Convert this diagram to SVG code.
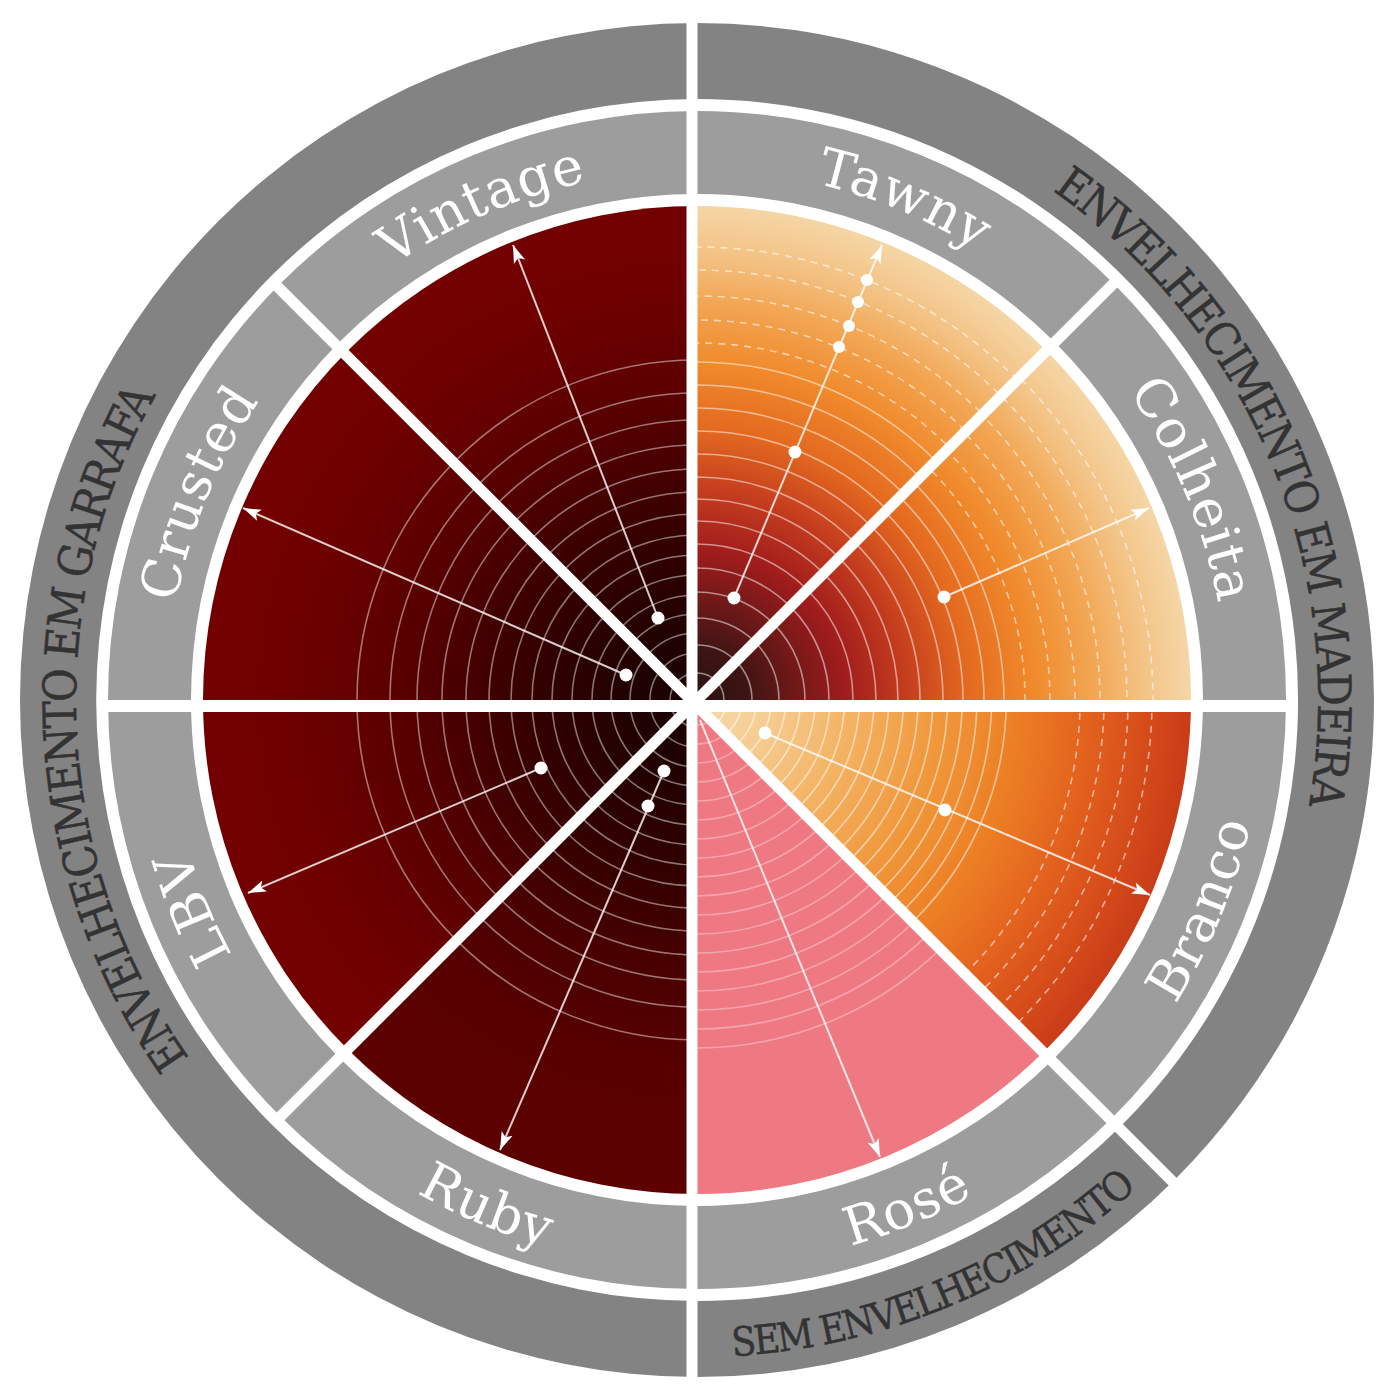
<svg xmlns="http://www.w3.org/2000/svg" width="1400" height="1400" viewBox="0 0 1400 1400">
<defs>
<style>
.lbl{font-family:"DejaVu Serif","Liberation Serif",serif;font-size:53px;fill:#ffffff;letter-spacing:1px;text-anchor:middle}
.cat{font-family:"DejaVu Serif Condensed","DejaVu Serif","Liberation Serif",serif;font-stretch:condensed;font-size:46px;letter-spacing:-2px;fill:#333333;stroke:#333333;stroke-width:0.5;text-anchor:middle}
.ringL{fill:none;stroke:#ffffff;stroke-opacity:.45;stroke-width:1.6}
.ringS{fill:none;stroke:#ffffff;stroke-opacity:.5;stroke-width:1.6}
.ringD{fill:none;stroke:#ffffff;stroke-opacity:.55;stroke-width:1.6;stroke-dasharray:7 6}
.ringP{fill:none;stroke:#ffffff;stroke-opacity:.32;stroke-width:1.6}
.seg{fill:#9d9d9d}
.outer{fill:#838383}
.sep{stroke:#ffffff;stroke-width:11;fill:none}
.arrow{stroke:#ffffff;stroke-opacity:.8;stroke-width:2;fill:none;marker-end:url(#ah)}
.dot{fill:#ffffff}
</style>
<marker id="ah" markerWidth="20" markerHeight="14" refX="18" refY="7" orient="auto" markerUnits="userSpaceOnUse">
<path d="M0,1 L18,7 L0,13 L4,7 Z" fill="#ffffff"/>
</marker>
<radialGradient id="gL" gradientUnits="userSpaceOnUse" cx="697" cy="700" r="494">
<stop offset="0" stop-color="#1a0202"/><stop offset="0.15" stop-color="#220101"/><stop offset="0.35" stop-color="#360000"/><stop offset="0.55" stop-color="#520000"/><stop offset="0.72" stop-color="#660000"/><stop offset="0.85" stop-color="#700000"/><stop offset="1" stop-color="#730000"/>
</radialGradient>
<radialGradient id="gRu" gradientUnits="userSpaceOnUse" cx="697" cy="700" r="494">
<stop offset="0" stop-color="#1a0202"/><stop offset="0.15" stop-color="#210101"/><stop offset="0.35" stop-color="#330000"/><stop offset="0.55" stop-color="#4a0000"/><stop offset="0.75" stop-color="#580000"/><stop offset="1" stop-color="#5c0000"/>
</radialGradient>
<radialGradient id="gT" gradientUnits="userSpaceOnUse" cx="697" cy="700" r="494">
<stop offset="0" stop-color="#2a1212"/><stop offset="0.1" stop-color="#3d1414"/><stop offset="0.2" stop-color="#701818"/><stop offset="0.3" stop-color="#a01c1c"/><stop offset="0.42" stop-color="#c43c1e"/><stop offset="0.55" stop-color="#e46a20"/><stop offset="0.68" stop-color="#f08a2c"/><stop offset="0.8" stop-color="#f2a552"/><stop offset="0.9" stop-color="#f3c284"/><stop offset="1" stop-color="#f5d6a6"/>
</radialGradient>
<radialGradient id="gB" gradientUnits="userSpaceOnUse" cx="697" cy="700" r="494">
<stop offset="0" stop-color="#f6dbb0"/><stop offset="0.15" stop-color="#f5cc90"/><stop offset="0.3" stop-color="#f3b466"/><stop offset="0.5" stop-color="#f0963a"/><stop offset="0.65" stop-color="#ec7e24"/><stop offset="0.8" stop-color="#e2601e"/><stop offset="0.92" stop-color="#d44a1a"/><stop offset="1" stop-color="#c83c18"/>
</radialGradient>
<clipPath id="cBr"><path d="M697,700 L1191,700 A494,494 0 0 1 1046.3,1049.3 Z"/></clipPath>
<clipPath id="cRo"><path d="M697,700 L1046.3,1049.3 A494,494 0 0 1 697,1194 Z"/></clipPath>
<clipPath id="cRu"><path d="M697,700 L697,1194 A494,494 0 0 1 347.7,1049.3 Z"/></clipPath>
<clipPath id="cLB"><path d="M697,700 L347.7,1049.3 A494,494 0 0 1 203,700 Z"/></clipPath>
<clipPath id="cCr"><path d="M697,700 L203,700 A494,494 0 0 1 347.7,350.7 Z"/></clipPath>
<clipPath id="cVi"><path d="M697,700 L347.7,350.7 A494,494 0 0 1 697,206 Z"/></clipPath>
<clipPath id="cTa"><path d="M697,700 L697,206 A494,494 0 0 1 1046.3,350.7 Z"/></clipPath>
<clipPath id="cCo"><path d="M697,700 L1046.3,350.7 A494,494 0 0 1 1191,700 Z"/></clipPath>
<g id="ringsLeft" class="ringL" transform="translate(697,700)">
<circle r="27"/><circle r="47"/><circle r="67"/><circle r="86"/><circle r="105"/><circle r="125"/><circle r="145"/><circle r="165"/><circle r="186"/><circle r="208"/><circle r="231"/><circle r="255"/><circle r="280"/><circle r="307"/><circle r="340"/>
</g>
<g id="ringsTawny" transform="translate(697,700)">
<g class="ringS"><circle r="27"/><circle r="55"/><circle r="82"/><circle r="108"/><circle r="132"/><circle r="156"/><circle r="179"/><circle r="201"/><circle r="223"/><circle r="246"/><circle r="269"/><circle r="292"/><circle r="315"/><circle r="338"/></g>
<g class="ringD"><circle r="357"/><circle r="380"/><circle r="404"/><circle r="430"/><circle r="453"/></g>
</g>
<g id="ringsColheita" transform="translate(697,700)">
<g class="ringS"><circle r="27"/><circle r="55"/><circle r="82"/><circle r="108"/><circle r="132"/><circle r="156"/><circle r="179"/><circle r="201"/><circle r="223"/><circle r="246"/><circle r="266"/><circle r="287"/><circle r="307"/></g>
<g class="ringD"><circle r="328"/><circle r="353"/><circle r="378"/><circle r="403"/><circle r="430"/><circle r="456"/></g>
</g>
<g id="ringsBranco" transform="translate(697,700)">
<g class="ringS"><circle r="30"/><circle r="44.7"/><circle r="59.4"/><circle r="74.1"/><circle r="88.8"/><circle r="103.5"/><circle r="118.2"/><circle r="132.9"/><circle r="147.6"/><circle r="162.3"/><circle r="177"/><circle r="191.7"/><circle r="206.4"/><circle r="221.1"/><circle r="235.8"/><circle r="250.5"/><circle r="265.2"/><circle r="279.9"/><circle r="294.6"/><circle r="309.3"/></g>
<g class="ringD"><circle r="383"/><circle r="407"/><circle r="431"/><circle r="455"/></g>
</g>
<g id="ringsRose" class="ringP" transform="translate(697,700)">
<circle r="25"/><circle r="44"/><circle r="63"/><circle r="82"/><circle r="101"/><circle r="120"/><circle r="139"/><circle r="158"/><circle r="177"/><circle r="196"/><circle r="215"/><circle r="234"/><circle r="253"/><circle r="272"/><circle r="291"/><circle r="310"/><circle r="329"/><circle r="348"/>
</g>
<path id="tpTop" d="M356.3,294 A530,530 0 0 1 1037.7,294"/>
<path id="tpBot" d="M332.5,1134.3 A567,567 0 0 0 1061.5,1134.3"/>
<path id="tpOTop" d="M221.3,300.8 A621,621 0 0 1 1172.7,300.8"/>
<path id="tpOBot" d="M193.7,1122.3 A657,657 0 0 0 1200.3,1122.3"/>
</defs>
<rect x="0" y="0" width="1400" height="1400" fill="#ffffff"/>

<g id="cat-garrafa">
<path class="outer" d="M697,1377 A677,677 0 0 1 697,23 L697,99 A601,601 0 0 0 697,1301 Z"/>
<text class="cat" transform="rotate(-93 697 700)"><textPath href="#tpOTop" startOffset="50%">ENVELHECIMENTO EM GARRAFA</textPath></text>
</g>
<g id="cat-madeira">
<path class="outer" d="M697,23 A677,677 0 0 1 1175.7,1178.7 L1122,1125 A601,601 0 0 0 697,99 Z"/>
<text class="cat" transform="rotate(67.25 697 700)"><textPath href="#tpOTop" startOffset="50%">ENVELHECIMENTO EM MADEIRA</textPath></text>
</g>
<g id="cat-sem">
<path class="outer" d="M1175.7,1178.7 A677,677 0 0 1 697,1377 L697,1301 A601,601 0 0 0 1122,1125 Z"/>
<text class="cat" style="font-size:40px;letter-spacing:-2px" transform="rotate(-22.5 697 700)"><textPath href="#tpOBot" startOffset="50%">SEM ENVELHECIMENTO</textPath></text>
</g>

<g id="node-branco">
<path class="seg" d="M1286,700 A589,589 0 0 1 1113.5,1116.5 L1054.8,1057.8 A506,506 0 0 0 1203,700 Z"/>
<path fill="url(#gB)" d="M697,700 L1191,700 A494,494 0 0 1 1046.3,1049.3 Z"/>
<use href="#ringsBranco" clip-path="url(#cBr)"/>
<text class="lbl" transform="rotate(-67.5 697 700)"><textPath href="#tpBot" startOffset="50%">Branco</textPath></text>
</g>
<g id="node-rose">
<path class="seg" d="M1113.5,1116.5 A589,589 0 0 1 697,1289 L697,1206 A506,506 0 0 0 1054.8,1057.8 Z"/>
<path fill="#ef7983" d="M697,700 L1046.3,1049.3 A494,494 0 0 1 697,1194 Z"/>
<use href="#ringsRose" clip-path="url(#cRo)"/>
<text class="lbl" transform="rotate(-22.5 697 700)"><textPath href="#tpBot" startOffset="50%">Rosé</textPath></text>
</g>
<g id="node-ruby">
<path class="seg" d="M697,1289 A589,589 0 0 1 280.5,1116.5 L339.2,1057.8 A506,506 0 0 0 697,1206 Z"/>
<path fill="url(#gRu)" d="M697,700 L697,1194 A494,494 0 0 1 347.7,1049.3 Z"/>
<use href="#ringsLeft" clip-path="url(#cRu)"/>
<text class="lbl" transform="rotate(22.5 697 700)"><textPath href="#tpBot" startOffset="50%">Ruby</textPath></text>
</g>
<g id="node-lbv">
<path class="seg" d="M280.5,1116.5 A589,589 0 0 1 108,700 L191,700 A506,506 0 0 0 339.2,1057.8 Z"/>
<path fill="url(#gL)" d="M697,700 L347.7,1049.3 A494,494 0 0 1 203,700 Z"/>
<use href="#ringsLeft" clip-path="url(#cLB)"/>
<text class="lbl" transform="rotate(-112.5 697 700)"><textPath href="#tpTop" startOffset="50%">LBV</textPath></text>
</g>
<g id="node-crusted">
<path class="seg" d="M108,700 A589,589 0 0 1 280.5,283.5 L339.2,342.2 A506,506 0 0 0 191,700 Z"/>
<path fill="url(#gL)" d="M697,700 L203,700 A494,494 0 0 1 347.7,350.7 Z"/>
<use href="#ringsLeft" clip-path="url(#cCr)"/>
<text class="lbl" transform="rotate(-67.5 697 700)"><textPath href="#tpTop" startOffset="50%">Crusted</textPath></text>
</g>
<g id="node-vintage">
<path class="seg" d="M280.5,283.5 A589,589 0 0 1 697,111 L697,194 A506,506 0 0 0 339.2,342.2 Z"/>
<path fill="url(#gL)" d="M697,700 L347.7,350.7 A494,494 0 0 1 697,206 Z"/>
<use href="#ringsLeft" clip-path="url(#cVi)"/>
<text class="lbl" transform="rotate(-23.5 697 700)"><textPath href="#tpTop" startOffset="50%">Vintage</textPath></text>
</g>
<g id="node-tawny">
<path class="seg" d="M697,111 A589,589 0 0 1 1113.5,283.5 L1054.8,342.2 A506,506 0 0 0 697,194 Z"/>
<path fill="url(#gT)" d="M697,700 L697,206 A494,494 0 0 1 1046.3,350.7 Z"/>
<use href="#ringsTawny" clip-path="url(#cTa)"/>
<text class="lbl" transform="rotate(22.5 697 700)"><textPath href="#tpTop" startOffset="50%">Tawny</textPath></text>
</g>
<g id="node-colheita">
<path class="seg" d="M1113.5,283.5 A589,589 0 0 1 1286,700 L1203,700 A506,506 0 0 0 1054.8,342.2 Z"/>
<path fill="url(#gT)" d="M697,700 L1046.3,350.7 A494,494 0 0 1 1191,700 Z"/>
<use href="#ringsColheita" clip-path="url(#cCo)"/>
<text class="lbl" transform="rotate(67 697 700)"><textPath href="#tpTop" startOffset="50%">Colheita</textPath></text>
</g>

<g id="separators" class="sep">
<line x1="692" y1="8" x2="692" y2="1392"/>
<line x1="102" y1="706" x2="1292" y2="706" style="stroke-width:12"/>
<line x1="273.3" y1="282.3" x2="1181.9" y2="1190.9"/>
<line x1="276.3" y1="1120.7" x2="1117.7" y2="279.3"/>
</g>

<g id="connectors">
<line class="arrow" x1="658" y1="618" x2="513" y2="245"/>
<line class="arrow" x1="626" y1="675" x2="243" y2="508"/>
<line class="arrow" x1="541" y1="768" x2="248" y2="893"/>
<line class="arrow" x1="664" y1="771" x2="500" y2="1150"/>
<line class="arrow" x1="734" y1="598" x2="882" y2="245"/>
<line class="arrow" x1="944" y1="597" x2="1149" y2="508"/>
<line class="arrow" x1="765" y1="733" x2="1150" y2="895"/>
<line class="arrow" x1="700" y1="720" x2="880" y2="1157"/>
<g class="dot">
<circle cx="658" cy="618" r="6.5"/>
<circle cx="626" cy="675" r="6.5"/>
<circle cx="541" cy="768" r="6.5"/>
<circle cx="664" cy="771" r="6.5"/>
<circle cx="648" cy="806" r="6.5"/>
<circle cx="734" cy="598" r="6.5"/>
<circle cx="795" cy="452" r="6.5"/>
<circle cx="839" cy="347" r="6"/>
<circle cx="849" cy="326" r="6"/>
<circle cx="858" cy="302" r="6"/>
<circle cx="867" cy="280" r="6"/>
<circle cx="944" cy="597" r="6.5"/>
<circle cx="765" cy="733" r="6.5"/>
<circle cx="945" cy="810" r="6.5"/>
</g>
</g>
</svg>
